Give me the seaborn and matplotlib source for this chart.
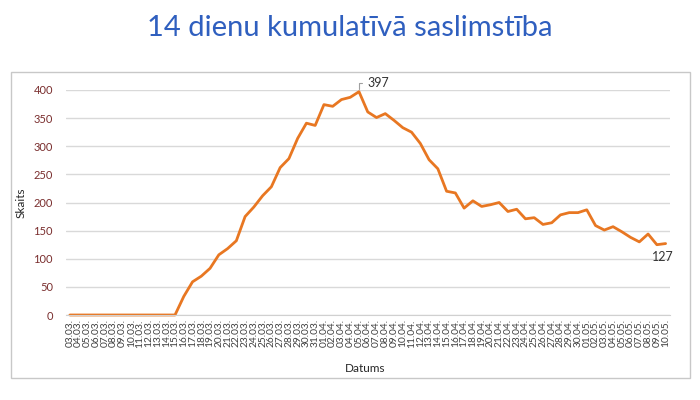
import matplotlib
matplotlib.use("Agg")
import matplotlib.pyplot as plt
from matplotlib.patches import Rectangle
import pandas as pd
import seaborn as sns

# datumi no 03.03. līdz 10.05.
datumi = (
    [f"{d:02d}.03." for d in range(3, 32)]
    + [f"{d:02d}.04." for d in range(1, 31)]
    + [f"{d:02d}.05." for d in range(1, 11)]
)

marts = [0, 0, 0, 0, 0, 0, 0, 0, 0, 0, 0, 0, 0,
         33, 59, 69, 83, 107, 118, 132, 175, 192, 212, 228, 262, 278, 314, 341, 337]
aprilis = [374, 371, 383, 387, 397, 361, 351, 358, 346, 333, 325, 305, 276, 260, 220,
           217, 190, 203, 193, 196, 200, 184, 188, 171, 173, 161, 164, 178, 182, 182]
maijs = [187, 159, 151, 157, 148, 138, 130, 144, 125, 127]
skaits = marts + aprilis + maijs

df = pd.DataFrame({"pos": range(len(datumi)), "Datums": datumi, "Skaits": skaits})

sns.set_style("white")
plt.rcParams["font.family"] = ["Lato", "DejaVu Sans"]

fig = plt.figure(figsize=(7, 4), dpi=100)
W, H = 700, 400

# rāmis ap diagrammu
fig.patches.append(Rectangle((11 / W, 1 - 378 / H), 679 / W, 306 / H,
                             transform=fig.transFigure, fill=False,
                             edgecolor="#C8C8C8", linewidth=1))

ax = fig.add_axes([65.5 / W, 1 - 315 / H, (670 - 65.5) / W, (315 - 90) / H])
sns.lineplot(data=df, x="pos", y="Skaits", color="#E87722", linewidth=2,
             ax=ax, sort=False)
ax.lines[0].set_clip_on(False)

ax.set_xlim(-0.5, len(datumi) - 0.5)
ax.set_ylim(0, 400)
ax.set_yticks(range(0, 401, 50))
ax.tick_params(axis="y", length=0, labelsize=8, labelcolor="#7A2E2E", pad=9)
ax.set_xticks(df["pos"])
ax.set_xticklabels(datumi, rotation=90, fontsize=7.3, color="#404040")
ax.set_xticks([p - 0.5 for p in range(len(datumi) + 1)], minor=True)
ax.tick_params(axis="x", which="major", length=0, pad=3)
ax.tick_params(axis="x", which="minor", length=4, color="#D0D0D0", width=0.8)
ax.grid(axis="y", color="#D9D9D9", linewidth=1)
ax.grid(axis="x", visible=False)
for s in ["top", "right", "left"]:
    ax.spines[s].set_visible(False)
ax.spines["bottom"].set_color("#D0D0D0")

ax.set_xlabel("Datums", fontsize=8.5)
ax.set_ylabel("Skaits", fontsize=8.5)
ax.xaxis.set_label_coords(0.495, -0.24)
ax.yaxis.set_label_coords(-0.073, 0.5)
ax.xaxis.label.set_va("center")
ax.yaxis.label.set_va("center")

# vērtību uzraksti
imax = skaits.index(max(skaits))
ax.annotate(str(skaits[imax]), xy=(imax, skaits[imax]), xytext=(imax + 1.0, 412),
            fontsize=9, color="#333333", va="center", ha="left",
            arrowprops=dict(arrowstyle="-", color="#A0A0A0", lw=0.8,
                            connectionstyle="angle,angleA=0,angleB=90,rad=0"),
            annotation_clip=False)
ilast = len(skaits) - 1
ax.text(ilast - 0.3, skaits[ilast] - 14, str(skaits[ilast]), fontsize=9,
        color="#333333", ha="center", va="top")

fig.text(0.5, 1 - 28 / H, "14 dienu kumulatīvā saslimstība", ha="center",
         va="center", fontsize=21, color="#2F5FBF")

fig.savefig("out.png", dpi=100)
